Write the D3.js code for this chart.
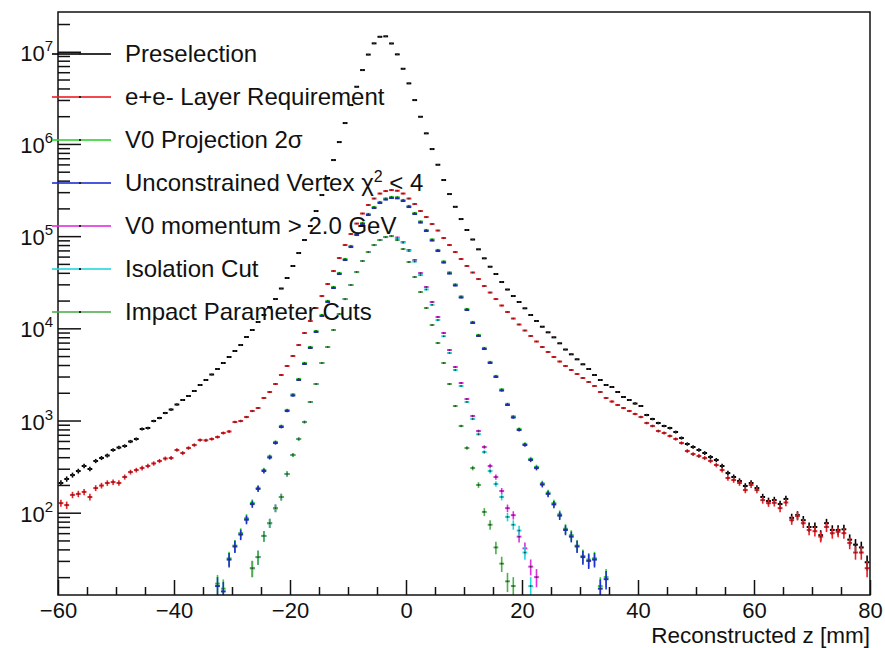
<!DOCTYPE html>
<html>
<head>
<meta charset="utf-8">
<script src="https://cdn.jsdelivr.net/npm/d3@7"></script>
<style>
body{margin:0;background:#fff;}
svg{display:block;}
text{font-family:"Liberation Sans",Arial,Helvetica,sans-serif;fill:#111;}
</style>
</head>
<body>
<script>
// 1 mm bins from -60 to 80 mm
var zMin = -60, zMax = 80, binWidth = 1;

// counts per bin, first bin starts at firstBin[i]
var preselection = [210, 232, 256, 283, 321, 298, 364, 392, 417, 479,
  509, 529, 592, 630, 809, 829, 988, 1064, 1206, 1316,
  1491, 1669, 1844, 2089, 2427, 2750, 3155, 3618, 4203, 4884,
  5673, 6587, 8049, 9583, 11706, 13940, 17022, 20784, 27017, 35125,
  47410, 65570, 90730, 128700, 187200, 279100, 426800, 668800, 1048000, 1685000,
  2642000, 4173000, 6331000, 9320000, 12330000, 14540000, 14700000, 12300000, 9370000, 6540000,
  4540000, 2990000, 1972000, 1303000, 880000, 595000, 406000, 286000, 208000, 153200,
  116500, 91900, 71920, 57430, 46580, 38810, 31780, 26350, 22400, 19290,
  16480, 13940, 12000, 10410, 9050, 7985, 6877, 5888, 5224, 4610,
  4070, 3618, 3115, 2750, 2427, 2308, 2038, 1798, 1669, 1529,
  1436, 1147, 1038, 939, 872, 829, 750, 646, 556, 516,
  479, 444, 402, 373, 321, 269, 244, 221, 195, 210,
  185, 148, 134, 137, 124, 141, 88, 94, 83, 70,
  70, 57, 77, 65, 65, 66, 51, 45, 42, 29];

var layerReq = [127, 121, 156, 160, 168, 148, 185, 197, 210, 215,
  210, 244, 276, 290, 305, 321, 342, 364, 387, 392,
  479, 444, 503, 542, 614, 610, 630, 662, 732, 760,
  963, 988, 1091, 1268, 1366, 1754, 2038, 2488, 3115, 3900,
  5006, 6587, 8892, 12000, 16600, 22400, 30230, 41820, 57850, 80080,
  105400, 136900, 175900, 217500, 255700, 289700, 308400, 316200, 310800, 289700,
  255700, 222900, 187200, 161100, 135300, 115000, 95360, 80080, 67210, 56440,
  47410, 40290, 34250, 28750, 24440, 20780, 17670, 15030, 12770, 11000,
  9465, 8251, 7193, 6268, 5533, 4884, 4364, 3900, 3529, 3193,
  2891, 2616, 2367, 2038, 1754, 1607, 1473, 1366, 1268, 1176,
  1091, 939, 872, 769, 732, 679, 630, 570, 467, 433,
  412, 392, 364, 329, 290, 238, 226, 210, 176, 200,
  176, 137, 127, 128, 112, 129, 83, 92, 77, 65,
  63, 55, 70, 60, 62, 60, 47, 37, 37, 25];

var v0Projection = [17, 15, 32, 44, 60, 87, 128, 186, 291, 408,
  586, 874, 1303, 1920, 2830, 4220, 6290, 9380, 13990, 19850,
  28150, 39930, 56640, 78350, 105800, 139200, 174300, 207500, 235200, 256600,
  266500, 264400, 247200, 212800, 178700, 144500, 116900, 92200, 70920, 53200,
  40430, 29970, 22200, 16250, 11750, 8490, 6136, 4325, 3050, 2176,
  1516, 1109, 812, 558, 384, 314, 208, 165, 127, 96,
  67, 57, 44, 34, 31, 32, 16, 20];

var unconstrained = [16, 14, 31, 43, 58, 84, 124, 181, 283, 397,
  570, 850, 1268, 1867, 2750, 4100, 6113, 9118, 13600, 19290,
  27360, 38810, 55050, 76150, 102800, 135300, 169400, 201700, 228600, 249400,
  259000, 257000, 240300, 206800, 173700, 140400, 113600, 89600, 68930, 51710,
  39290, 29130, 21580, 15790, 11420, 8251, 5963, 4203, 2964, 2115,
  1473, 1078, 789, 542, 373, 305, 202, 160, 123, 93,
  65, 55, 43, 33, 30, 31, 15, 19];

var v0Momentum = [25, 33, 56, 77, 112, 148, 263, 423, 630, 963,
  1587, 2488, 4203, 6268, 9583, 14300, 20780, 29490, 40790, 53700,
  67210, 80080, 90730, 97770, 100200,
  96560, 86300, 70670, 55050, 39780, 28050, 19290, 13260, 8892, 5816,
  3804, 2551, 1711, 1119, 769, 516, 321, 244, 172, 112,
  94, 55, 41, 26, 20];

var isolation = [25, 33, 56, 77, 112, 148, 263, 423, 630, 963,
  1587, 2488, 4203, 6268, 9583, 14300, 20780, 29490, 40790, 53700,
  67210, 80080, 90730, 97770, 100200,
  95500, 85000, 69000, 53000, 37800, 26400, 18000, 12300, 8200, 5400,
  3530, 2370, 1590, 1040, 710, 455, 283, 205, 148, 90,
  74, 64, 37, 16];

var impactParam = [25, 33, 56, 77, 112, 148, 263, 423, 630, 963,
  1587, 2488, 4203, 6268, 9583, 14300, 20780, 29490, 40790, 53700,
  67210, 80080, 90730, 97770, 100200,
  90730, 72440, 52390, 36010, 24750, 16600, 10860, 6928, 4203, 2488,
  1436, 872, 503, 305, 200, 102, 74, 42, 28, 18,
  16];

var seriesNames = ["Preselection", "e+e- Layer Requirement", "V0 Projection 2\u03c3",
  "Unconstrained Vertex", "V0 momentum > 2.0 GeV", "Isolation Cut", "Impact Parameter Cuts"];
var seriesColors = ["#000000", "#ee1c24", "#2fd42f", "#1f2fd0", "#e02ee0", "#22d8dc", "#4fae4f"];
var firstBin = [-60, -60, -33, -33, -27, -27, -27];
var seriesCounts = [preselection, layerReq, v0Projection, unconstrained, v0Momentum, isolation, impactParam];

var xTicks = [-60, -40, -20, 0, 20, 40, 60, 80];
var yDecades = [2, 3, 4, 5, 6, 7];

var margin = {top: 12, right: 15, bottom: 53, left: 58},
  W = 885, H = 648,
  width = W - margin.left - margin.right,
  height = H - margin.top - margin.bottom;

var x = d3.scaleLinear().domain([zMin, zMax]).range([0, width]);
var y = d3.scaleLog().domain([12.8, 2.7e7]).range([height, 0]);

var svg = d3.select("body").append("svg")
  .attr("width", W).attr("height", H);
svg.append("rect").attr("width", W).attr("height", H).attr("fill", "#fff");

var g = svg.append("g")
  .attr("transform", "translate(" + margin.left + "," + margin.top + ")");

g.append("clipPath").attr("id", "frame")
  .append("rect").attr("width", width).attr("height", height);

// data points: horizontal bin bar, sqrt(N) error bar, dot marker
var plot = g.append("g").attr("clip-path", "url(#frame)");
seriesCounts.forEach(function(counts, i) {
  var pts = counts.map(function(v, j) {
    return {lo: firstBin[i] + j * binWidth, v: v};
  }).filter(function(d) { return d.v >= y.domain()[0]; });
  var s = plot.append("g").attr("stroke", seriesColors[i]);
  s.selectAll(".hbar").data(pts).enter().append("line")
    .attr("x1", function(d) { return x(d.lo) + 0.5; })
    .attr("x2", function(d) { return x(d.lo + binWidth) - 0.5; })
    .attr("y1", function(d) { return y(d.v); })
    .attr("y2", function(d) { return y(d.v); })
    .attr("stroke-width", 2);
  s.selectAll(".vbar").data(pts).enter().append("line")
    .attr("x1", function(d) { return x(d.lo + binWidth / 2); })
    .attr("x2", function(d) { return x(d.lo + binWidth / 2); })
    .attr("y1", function(d) { return y(d.v + Math.sqrt(d.v)); })
    .attr("y2", function(d) { return y(Math.max(d.v - Math.sqrt(d.v), 1)); })
    .attr("stroke-width", 1.6);
  s.selectAll(".dot").data(pts).enter().append("rect")
    .attr("x", function(d) { return x(d.lo + binWidth / 2) - 0.75; })
    .attr("y", function(d) { return y(d.v) - 0.75; })
    .attr("width", 1.5).attr("height", 1.5)
    .attr("stroke", "none").attr("fill", "#333");
});

// frame
g.append("rect").attr("width", width).attr("height", height)
  .attr("fill", "none").attr("stroke", "#111").attr("stroke-width", 1.5);

// x axis
var minorX = d3.range(zMin, zMax + 1, 5).filter(function(d) { return xTicks.indexOf(d) < 0; });
var xAxis = g.append("g").attr("transform", "translate(0," + height + ")")
  .call(d3.axisBottom(x).tickValues(xTicks).tickSize(-15).tickPadding(7.4)
    .tickFormat(function(d) { return d < 0 ? "\u2212" + Math.abs(d) : d; }));
g.append("g").attr("transform", "translate(0," + height + ")")
  .call(d3.axisBottom(x).tickValues(minorX).tickSize(-8).tickFormat(""))
  .select(".domain").remove();
xAxis.select(".domain").remove();
xAxis.selectAll("text").attr("font-size", 22).attr("fill", "#111");
g.selectAll(".tick line").attr("stroke", "#111").attr("stroke-width", 1.5);

// y axis (log)
var majorY = yDecades.map(function(p) { return Math.pow(10, p); });
var minorY = [];
d3.range(1, 8).forEach(function(p) {
  d3.range(2, 10).forEach(function(m) {
    var v = m * Math.pow(10, p);
    if (v > y.domain()[0] && v < y.domain()[1]) minorY.push(v);
  });
});
var yMaj = g.append("g").call(d3.axisLeft(y).tickValues(majorY).tickSize(-23).tickFormat(""));
var yMin = g.append("g").call(d3.axisLeft(y).tickValues(minorY).tickSize(-12).tickFormat(""));
yMaj.select(".domain").remove();
yMin.select(".domain").remove();
g.selectAll(".tick line").attr("stroke", "#111").attr("stroke-width", 1.5);

var yLab = g.append("g").selectAll("text").data(yDecades).enter().append("text")
  .attr("x", -5)
  .attr("y", function(p) { return y(Math.pow(10, p)) + 9; })
  .attr("text-anchor", "end")
  .attr("font-size", 22);
yLab.append("tspan").text("10");
yLab.append("tspan").attr("dy", -10).attr("font-size", 15).text(function(p) { return p; });

g.append("text")
  .attr("x", width).attr("y", height + 48)
  .attr("text-anchor", "end").attr("font-size", 22.5)
  .text("Reconstructed z [mm]");

// legend, drawn over the data like the original
var legend = svg.append("g").selectAll("g").data(seriesNames).enter().append("g")
  .attr("transform", function(d, i) { return "translate(0," + (54 + i * 43) + ")"; });
legend.append("line")
  .attr("x1", 52).attr("x2", 111).attr("y1", 0).attr("y2", 0)
  .attr("stroke", function(d, i) { return seriesColors[i]; })
  .attr("stroke-width", 1.8).attr("opacity", 0.8);
legend.append("rect")
  .attr("x", 79).attr("y", -1).attr("width", 2).attr("height", 2).attr("fill", "#222");
var legText = legend.append("text")
  .attr("x", 125).attr("y", 8).attr("font-size", 24);
legText.append("tspan").text(function(d) { return d; });
legText.filter(function(d, i) { return i === 3; }).each(function() {
  var t = d3.select(this);
  t.append("tspan").text(" \u03c7");
  t.append("tspan").attr("dy", -9).attr("font-size", 16).text("2");
  t.append("tspan").attr("dy", 9).text(" < 4");
});
</script>
</body>
</html>
